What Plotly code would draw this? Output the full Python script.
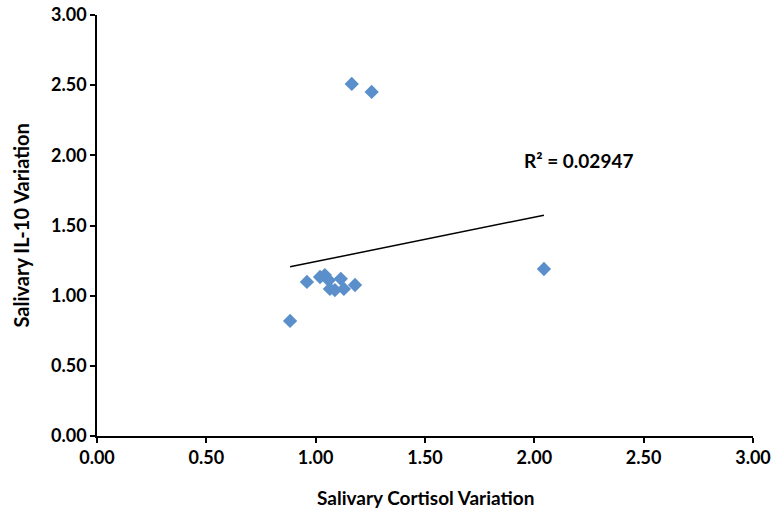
import numpy as np
import plotly.graph_objects as go

cortisol = [0.883, 0.960, 1.020, 1.042, 1.060, 1.065, 1.088, 1.115, 1.129, 1.180, 1.165, 1.256, 2.044]
il10 = [0.820, 1.098, 1.133, 1.147, 1.110, 1.048, 1.040, 1.120, 1.048, 1.076, 2.509, 2.452, 1.190]
tick_vals = [0, 0.5, 1.0, 1.5, 2.0, 2.5, 3.0]
tick_text = ["0.00", "0.50", "1.00", "1.50", "2.00", "2.50", "3.00"]
r2_label = "R² = 0.02947"
x_title = "Salivary Cortisol Variation"
y_title = "Salivary IL-10 Variation"

x = np.array(cortisol)
y = np.array(il10)
slope, intercept = np.polyfit(x, y, 1)
tx = np.array([x.min(), x.max()])
ty = slope * tx + intercept

FONT = "Lato"

fig = go.Figure()
fig.add_trace(go.Scatter(x=tx, y=ty, mode="lines",
                         line=dict(color="black", width=1.5), showlegend=False, hoverinfo="skip"))
fig.add_trace(go.Scatter(x=cortisol, y=il10, mode="markers",
                         marker=dict(symbol="diamond", size=11, color="#5B8FCB"), showlegend=False))

fig.add_annotation(x=2.2, y=1.96, text="<b>" + r2_label + "</b>", showarrow=False,
                   font=dict(family=FONT, size=19, color="black"))
fig.add_annotation(xref="paper", yref="paper", x=0.5, y=0, yanchor="middle", yshift=-61,
                   text="<b>" + x_title + "</b>", showarrow=False,
                   font=dict(family=FONT, size=19, color="black"))
fig.add_annotation(xref="paper", yref="paper", x=0, y=0.5, xanchor="center", xshift=-77,
                   textangle=-90, text="<b>" + y_title + "</b>", showarrow=False,
                   font=dict(family=FONT, size=20, color="black"))

axis_common = dict(range=[0, 3], tickvals=tick_vals, ticktext=tick_text,
                   showgrid=False, zeroline=False, showline=True, linecolor="black", linewidth=1.5,
                   ticks="outside", ticklen=5, tickwidth=1.5, tickcolor="black",
                   automargin=False, ticklabeloverflow="allow",
                   tickfont=dict(family=FONT, size=18, color="black", weight="bold"))

fig.update_layout(
    width=772, height=520,
    margin=dict(l=97, r=19, t=15, b=84),
    plot_bgcolor="white", paper_bgcolor="white",
    xaxis=dict(**axis_common),
    yaxis=dict(**axis_common),
)

fig.write_html("out.html")
